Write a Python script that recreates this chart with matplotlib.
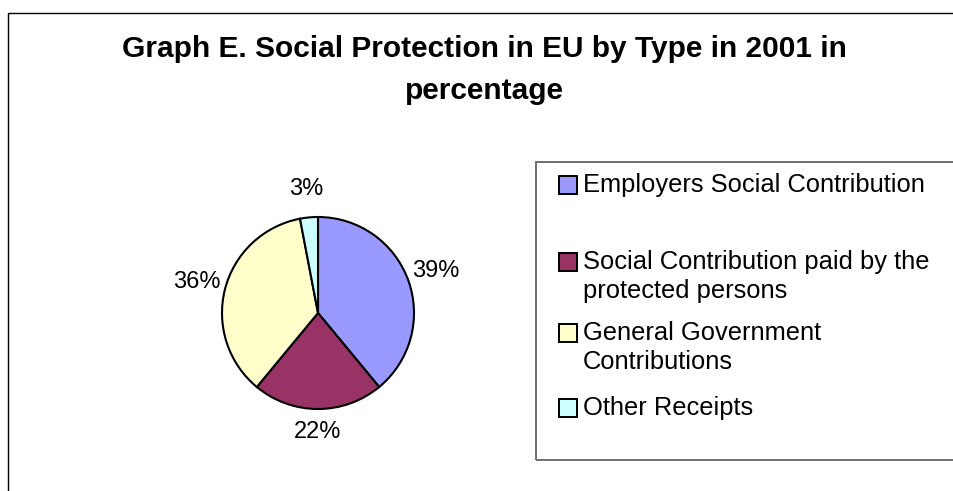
import numpy as np
import matplotlib
matplotlib.use("Agg")
import matplotlib.pyplot as plt
from matplotlib.patches import Rectangle

plt.rcParams['font.family'] = ['Liberation Sans', 'DejaVu Sans']

# Datos del grafico
tipos = ["Employers Social Contribution",
         "Social Contribution paid by the\nprotected persons",
         "General Government\nContributions",
         "Other Receipts"]
porcentajes = [39, 22, 36, 3]
colores = ["#9999FF", "#993366", "#FFFFCC", "#CCFFFF"]
titulo = "Graph E. Social Protection in EU by Type in 2001 in\npercentage"

W, H = 954, 491


# pixeles -> fraccion de figura
def px(x, y):
    return x / W, 1 - y / H


fig = plt.figure(figsize=(W / 100, H / 100), dpi=100)

# marco exterior (se corta en los bordes derecho e inferior)
x0, y0 = px(8, 13)
fig.patches.append(Rectangle((x0, -0.1), 1.2, y0 + 0.1, transform=fig.transFigure,
                             fill=False, edgecolor="#000000", linewidth=1.0))

fig.text(0.508, px(0, 35)[1], titulo, ha="center", va="top", fontsize=21.5,
         fontweight="bold", linespacing=1.62)

# torta
cx, cy, r = 318, 313, 96
ax = fig.add_axes([(cx - r) / W, (H - cy - r) / H, 2 * r / W, 2 * r / H])
cunas = ax.pie(porcentajes, colors=colores, startangle=90, counterclock=False,
               radius=1, wedgeprops=dict(edgecolor="black", linewidth=1.5))[0]

# etiquetas de porcentaje fuera de la torta
for cuna, p in zip(cunas, porcentajes):
    ang = np.deg2rad((cuna.theta1 + cuna.theta2) / 2)
    d = 1.3 if p != 22 else 1.24
    ax.text(d * np.cos(ang), d * np.sin(ang), f"{p}%", ha="center", va="center",
            fontsize=17)
ax.set_xlim(-1, 1)
ax.set_ylim(-1, 1)
ax.set_aspect("equal")
ax.axis("off")

# leyenda manual
lx0, ly0 = px(536, 162)
lx1, ly1 = px(536, 460)
fig.patches.append(Rectangle((lx0, ly1), 1.0, ly0 - ly1, transform=fig.transFigure,
                             fill=False, edgecolor="#707070", linewidth=1.4))
filas_y = [185, 262, 333, 408]
for etiqueta, color, fy in zip(tipos, colores, filas_y):
    mx, my = px(559, fy + 9)
    fig.patches.append(Rectangle((mx, my), 18 / W, 18 / H, transform=fig.transFigure,
                                 facecolor=color, edgecolor="black", linewidth=1.4))
    for i, linea in enumerate(etiqueta.split("\n")):
        tx, ty = px(583, fy + 29 * i)
        fig.text(tx, ty, linea, ha="left", va="center", fontsize=18.4)

fig.savefig("out.png", dpi=100)
